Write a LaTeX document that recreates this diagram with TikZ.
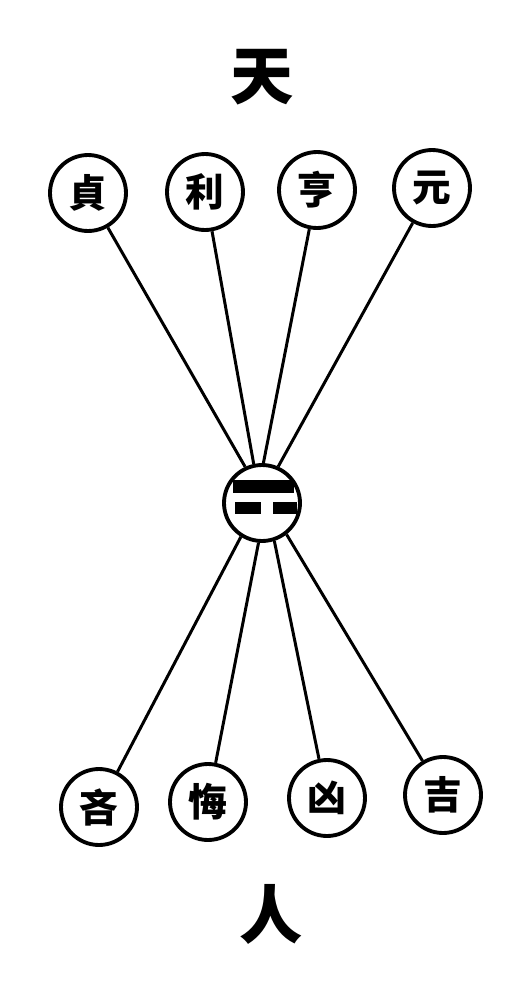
\documentclass[tikz,border=0pt]{standalone}
\usepackage{fontspec}
\usepackage{tikz}
\newfontfamily\cjk{Noto Sans CJK TC}

\begin{document}
\begin{tikzpicture}[
  x=0.02cm, y=-0.02cm,
  %--- shared node styles -----------------------------------------
  ring/.style={
    circle, draw=black, line width=2.2pt,
    minimum size=1.52cm, inner sep=0pt,
    font=\cjk\bfseries\fontsize{22}{22}\selectfont
  },
  bigchar/.style={
    inner sep=0pt, font=\cjk\bfseries\fontsize{36}{36}\selectfont
  },
  spoke/.style={line width=1.7pt, color=black},
]
\useasboundingbox (0,0) rectangle (514,981);

%% --- ROW 0: heaven ----------------------------------------------
\node[bigchar] (tian) at (262, 77) {天};

%% --- ROW 1: four virtues ----------------------------------------
\node[ring] (zhen)  at ( 88, 193) {貞};
\node[ring] (li)    at (205, 192) {利};
\node[ring] (heng)  at (317, 190) {亨};
\node[ring] (yuan)  at (432, 188) {元};

%% --- ROW 2: the trigram -----------------------------------------
\node[ring] (gua) at (262, 503) {};
\begin{scope}[shift={(gua.center)}]
  \fill (-29,-23) rectangle (32,-10);
  \fill (-27, -1) rectangle (-1, 11);
  \fill ( 11, -1) rectangle (35, 11);
\end{scope}

%% --- ROW 3: four outcomes ---------------------------------------
\node[ring] (lin)   at ( 99, 807) {吝};
\node[ring] (hui)   at (208, 802) {悔};
\node[ring] (xiong) at (327, 798) {凶};
\node[ring] (ji)    at (443, 795) {吉};

%% --- ROW 4: man -------------------------------------------------
\node[bigchar] (ren) at (271, 914) {人};

%% --- spokes -----------------------------------------------------
% virtues -> trigram (upper side)
\draw[spoke] (zhen) -- (gua.115);
\draw[spoke] (li)   -- (gua.102);
\draw[spoke] (heng) -- (gua.88);
\draw[spoke] (yuan) -- (gua.66);
% trigram -> outcomes (lower side)
\draw[spoke] (gua.-122) -- (lin);
\draw[spoke] (gua.-95)  -- (hui);
\draw[spoke] (gua.-72)  -- (xiong);
\draw[spoke] (gua.-52)  -- (ji);

\end{tikzpicture}
\end{document}
